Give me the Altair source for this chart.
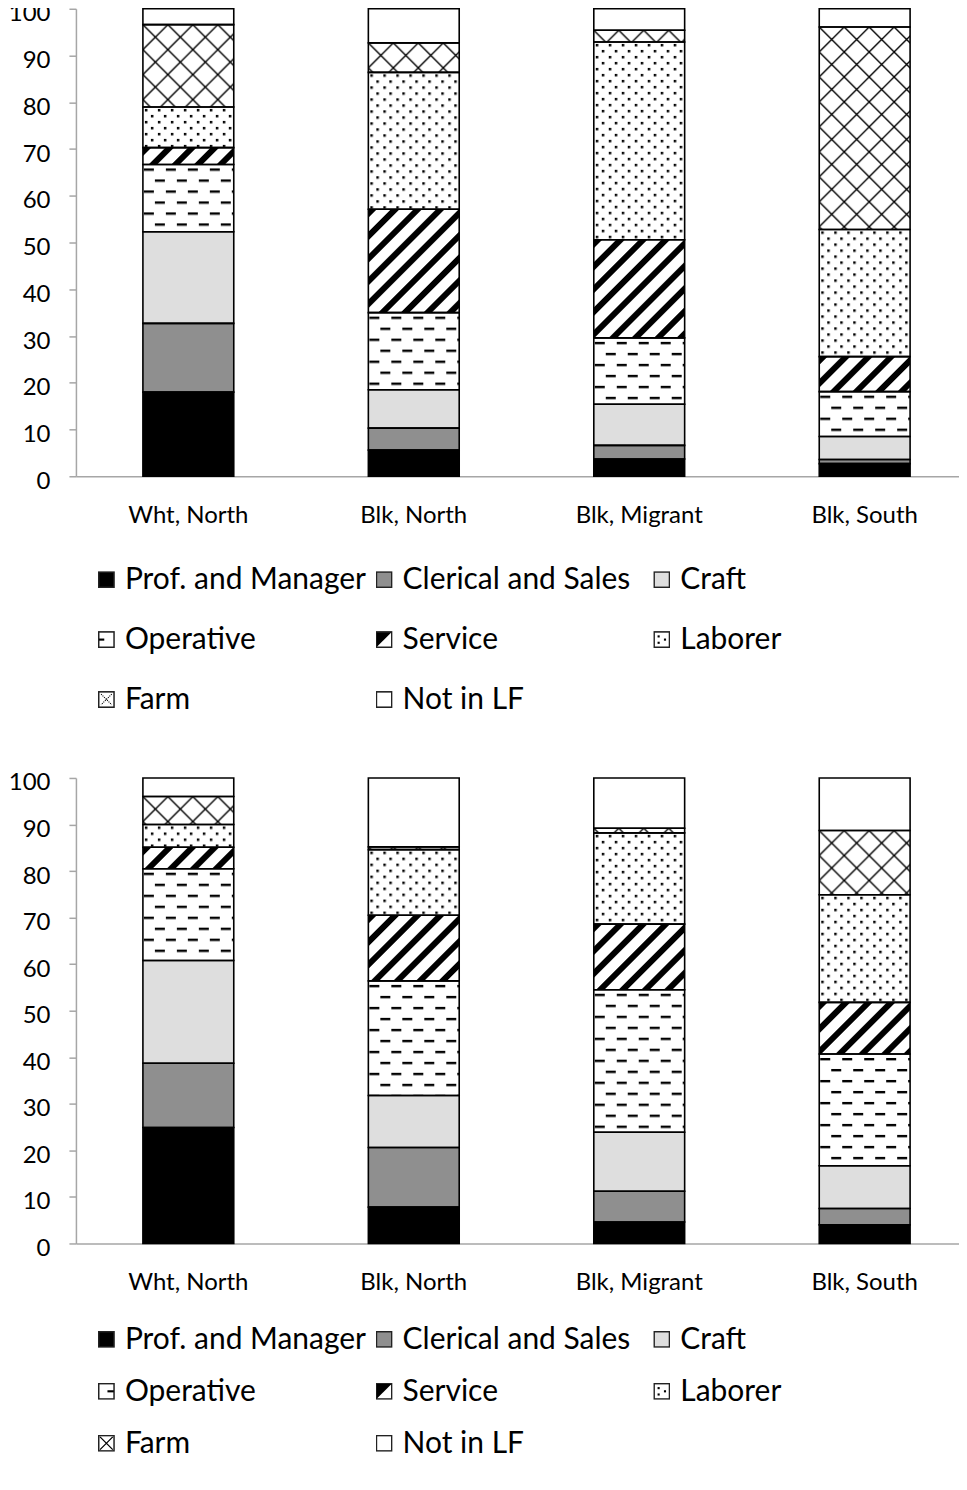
import base64
import altair as alt
import pandas as pd

# ---------------- data ----------------
groups = ["Wht, North", "Blk, North", "Blk, Migrant", "Blk, South"]
categories = ["Prof. and Manager", "Clerical and Sales", "Craft", "Operative",
              "Service", "Laborer", "Farm", "Not in LF"]

# top panel (percent of each group)
top_wht_north = [18.0, 14.7, 19.6, 14.4, 3.6, 8.7, 17.6, 3.4]
top_blk_north = [5.6, 4.7, 8.2, 16.5, 22.1, 29.3, 6.3, 7.3]
top_blk_migrant = [3.7, 2.9, 8.8, 14.2, 21.0, 42.3, 2.5, 4.6]
top_blk_south = [2.7, 0.9, 4.9, 9.6, 7.5, 27.2, 43.3, 3.9]

# bottom panel
bot_wht_north = [24.9, 13.8, 22.1, 19.7, 4.6, 4.9, 6.0, 4.0]
bot_blk_north = [7.8, 12.8, 11.2, 24.6, 14.1, 14.1, 0.6, 14.8]
bot_blk_migrant = [4.6, 6.6, 12.7, 30.6, 14.1, 19.6, 1.0, 10.8]
bot_blk_south = [4.0, 3.5, 9.2, 24.0, 11.1, 23.1, 13.8, 11.3]

y_ticks = [0, 10, 20, 30, 40, 50, 60, 70, 80, 90, 100]

# ---------------- styles ----------------
FONT = "Lato"
GRAY = "#a6a6a6"
fills = ["#000000", "#8f8f8f", "#dedede", "#ffffff", "#ffffff", "#ffffff", "#ffffff", "#ffffff"]
kinds = ["solid", "solid", "solid", "dash", "stripe", "dot", "cross", "solid"]

PLOT_W = 884
P_IN, P_OUT, ALIGN = 0.597, 0.257, 0.578
BAR_W = PLOT_W / (len(groups) - P_IN + 2 * P_OUT) * (1 - P_IN)

PATTERNS = {
    "dash": '<pattern id="p" width="22" height="22" patternUnits="userSpaceOnUse">'
            '<rect x="1" y="4" width="10" height="2.4" fill="#000"/>'
            '<rect x="12" y="15" width="10" height="2.4" fill="#000"/></pattern>',
    "stripe": '<pattern id="p" width="16" height="16" patternUnits="userSpaceOnUse" '
              'patternTransform="rotate(45)"><rect x="0" y="0" width="6" height="16" fill="#000"/></pattern>',
    "dot": '<pattern id="p" width="13" height="12" patternUnits="userSpaceOnUse">'
           '<rect x="2" y="2" width="2.5" height="2.5" fill="#000"/>'
           '<rect x="8" y="8" width="2.5" height="2.5" fill="#000"/></pattern>',
    "cross": '<pattern id="p" width="25" height="25" patternUnits="userSpaceOnUse">'
             '<path d="M0,0L25,25M25,0L0,25" stroke="#000" stroke-width="1.4"/></pattern>',
}


def to_url(svg):
    return "data:image/svg+xml;base64," + base64.b64encode(svg.encode()).decode()


def segment_url(kind, fill, w, h):
    h = max(h, 0.5)
    head = (f'<svg xmlns="http://www.w3.org/2000/svg" width="{w:.2f}" height="{h:.2f}" '
            f'viewBox="0 0 {w:.2f} {h:.2f}" preserveAspectRatio="none">')
    if kind == "solid":
        body = f'<rect width="{w:.2f}" height="{h:.2f}" fill="{fill}"/>'
    else:
        body = (f'<defs>{PATTERNS[kind]}</defs><rect width="{w:.2f}" height="{h:.2f}" fill="#fff"/>'
                f'<rect width="{w:.2f}" height="{h:.2f}" fill="url(#p)"/>')
    return to_url(head + body + "</svg>")


def legend_url(kind, fill, variant):
    s = '<svg xmlns="http://www.w3.org/2000/svg" width="16" height="16" viewBox="0 0 16 16">'
    s += f'<rect x="0.75" y="0.75" width="14.5" height="14.5" fill="{fill}" stroke="#222" stroke-width="1.5"/>'
    if kind == "dash":
        if variant == 0:
            s += '<rect x="1" y="7" width="5" height="2" fill="#000"/>'
        else:
            s += '<rect x="9" y="7" width="6" height="2" fill="#000"/>'
    elif kind == "stripe":
        s += '<polygon points="1,1 15,1 1,15" fill="#000"/>'
    elif kind == "dot":
        s += ('<rect x="4" y="4" width="2" height="2" fill="#000"/><rect x="10" y="7" width="2" height="2" fill="#000"/>'
              '<rect x="4" y="10" width="2" height="2" fill="#000"/>')
    elif kind == "cross":
        if variant == 0:
            s += ('<path d="M3,3L13,13M13,3L3,13" stroke="#000" stroke-width="1" stroke-dasharray="1,1"/>')
        else:
            s += '<path d="M2,2L14,14M14,2L2,14" stroke="#000" stroke-width="1.2"/>'
    s += "</svg>"
    return to_url(s)


def panel(series, plot_h):
    rows = []
    for g, vals in zip(groups, series):
        for i, (c, v) in enumerate(zip(categories, vals)):
            rows.append(dict(group=g, category=c, order=i, value=v,
                             url=segment_url(kinds[i], fills[i], BAR_W, v * plot_h / 100.0)))
    df = pd.DataFrame(rows)

    xsc = alt.Scale(domain=groups, paddingInner=P_IN, paddingOuter=P_OUT, align=ALIGN)
    ysc = alt.Scale(domain=[0, 100], nice=False)
    X = alt.X("group:N", scale=xsc, sort=groups,
              axis=alt.Axis(title=None, labelAngle=0, ticks=False, domainColor=GRAY, domainWidth=1.5,
                            labelFont=FONT, labelFontSize=24, labelColor="#000", labelPadding=27))
    Y = alt.Y("y0:Q", scale=ysc, stack=None,
              axis=alt.Axis(title=None, values=y_ticks, grid=False, domainColor=GRAY, domainWidth=1.5,
                            tickColor=GRAY, tickSize=7, tickWidth=1.5, labelFont=FONT, labelFontSize=24,
                            labelColor="#000", labelPadding=19, labelOffset=5))
    Y2 = alt.Y2("y1:Q")

    base = alt.Chart(df).transform_window(
        y1="sum(value)", frame=[None, 0], groupby=["group"],
        sort=[alt.SortField("order", order="ascending")]
    ).transform_calculate(y0="datum.y1 - datum.value")

    bars = base.mark_bar(strokeWidth=0).encode(
        x=X, y=Y, y2=Y2,
        color=alt.Color("category:N", scale=alt.Scale(domain=categories, range=fills), legend=None))
    imgs = base.mark_image(aspect=False).encode(x=X, y=Y, y2=Y2, url="url:N")
    outline = base.mark_bar(fillOpacity=0, stroke="#000", strokeWidth=1.6).encode(x=X, y=Y, y2=Y2)
    return alt.layer(bars, imgs, outline).properties(width=PLOT_W, height=plot_h)


def legend(variant, height, first_row, step):
    df = pd.DataFrame(dict(
        category=categories,
        col=[i % 3 for i in range(len(categories))],
        row=[i // 3 for i in range(len(categories))],
        url=[legend_url(kinds[i], fills[i], variant) for i in range(len(categories))],
    ))
    half = 8.5 / step
    lx = alt.Scale(domain=[-22 / 278, (PLOT_W - 22) / 278])
    ly = alt.Scale(domain=[-first_row / step, (height - first_row) / step], reverse=True)
    sym = alt.Chart(df).transform_calculate(
        c2="datum.col + 17/278", r0=f"datum.row - {half}", r1=f"datum.row + {half}"
    ).mark_image(aspect=False, clip=True).encode(
        x=alt.X("col:Q", scale=lx, axis=None), x2="c2:Q",
        y=alt.Y("r0:Q", scale=ly, axis=None), y2="r1:Q", url="url:N")
    txt = alt.Chart(df).mark_text(align="left", baseline="middle", dx=27, dy=0.5, font=FONT,
                                  fontSize=30, color="#000", clip=True).encode(
        x=alt.X("col:Q", scale=lx, axis=None),
        y=alt.Y("row:Q", scale=ly, axis=None), text="category:N")
    return alt.layer(sym, txt).properties(width=PLOT_W, height=height)


top = panel([top_wht_north, top_blk_north, top_blk_migrant, top_blk_south], 468)
bottom = panel([bot_wht_north, bot_blk_north, bot_blk_migrant, bot_blk_south], 466)

chart = alt.vconcat(top, legend(0, 223.5, 42.5, 60), bottom, legend(1, 152, 35, 52),
                    spacing=10).properties(
    padding={"top": -7, "left": 0, "right": 0, "bottom": 0}
).configure(font=FONT).configure_view(stroke=None, strokeWidth=0)

chart.save("out.html", embed_options={"renderer": "svg", "actions": False})
